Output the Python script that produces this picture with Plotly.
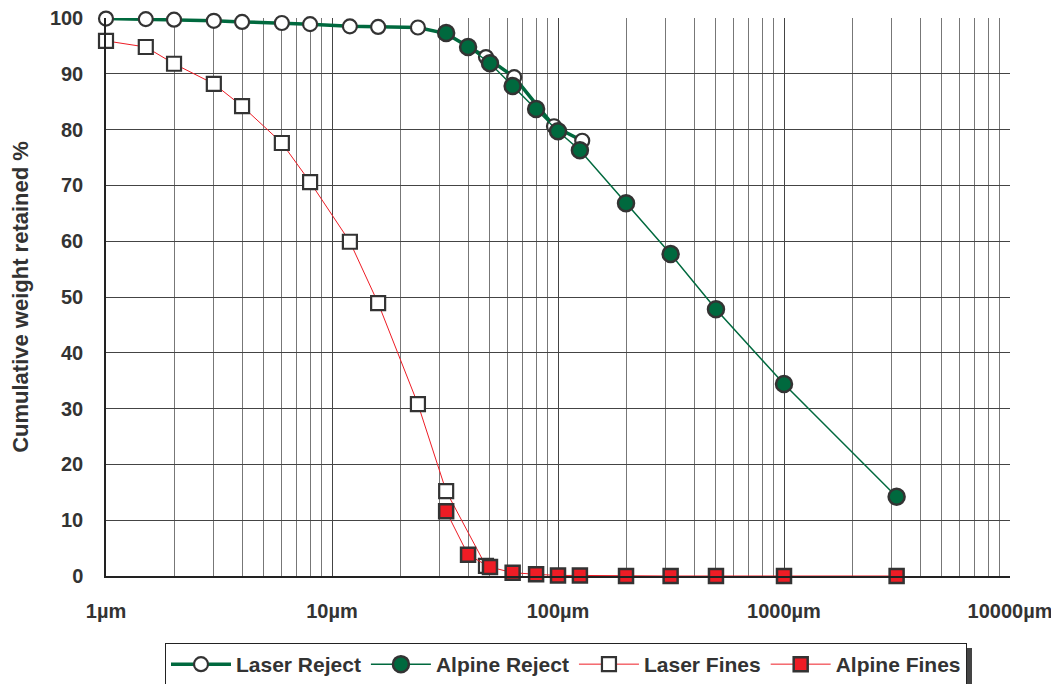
import plotly.graph_objects as go

# ---- data ----
laser_reject_size = [1, 1.5, 2, 3, 4, 6, 8, 12, 16, 24, 32, 48, 64, 96, 128]
laser_reject_pct = [99.9, 99.8, 99.7, 99.5, 99.3, 99.1, 98.9, 98.5, 98.4, 98.3, 97.2, 93.0, 89.4, 80.6, 78.0]

alpine_reject_size = [32, 40, 50, 63, 80, 100, 125, 200, 315, 500, 1000, 3150]
alpine_reject_pct = [97.3, 94.8, 91.9, 87.8, 83.7, 79.7, 76.3, 66.8, 57.7, 47.8, 34.4, 14.2]

laser_fines_size = [1, 1.5, 2, 3, 4, 6, 8, 12, 16, 24, 32, 48]
laser_fines_pct = [95.9, 94.8, 91.8, 88.2, 84.2, 77.6, 70.6, 59.9, 48.9, 30.8, 15.2, 1.8]

alpine_fines_size = [32, 40, 50, 63, 80, 100, 125, 200, 315, 500, 1000, 3150]
alpine_fines_pct = [11.6, 3.8, 1.6, 0.6, 0.3, 0.1, 0.1, 0.0, 0.0, 0.0, 0.0, 0.0]

x_tick_vals = [1, 10, 100, 1000, 10000]
x_tick_text = ["1µm", "10µm", "100µm", "1000µm", "10000µm"]
y_tick_vals = [0, 10, 20, 30, 40, 50, 60, 70, 80, 90, 100]

GREEN = "#00693E"
RED = "#EE1C25"
EDGE = "#333333"
FONT = "Liberation Sans"

minor_vals = [m * 10 ** k for k in range(4) for m in range(2, 10)]

# page has an 8px body margin; figure is sized to fit inside the window
W, H = 1051, 676
OFF = 8
PL, PR, PT, PB = 106, 1010, 18, 576  # plot area in window pixels

fig = go.Figure()
fig.add_trace(go.Scatter(
    x=laser_reject_size, y=laser_reject_pct, name="Laser Reject", mode="lines+markers",
    line=dict(color=GREEN, width=3.5),
    marker=dict(symbol="circle", size=14, color="white", line=dict(color=EDGE, width=2.2)),
    cliponaxis=False))
fig.add_trace(go.Scatter(
    x=alpine_reject_size, y=alpine_reject_pct, name="Alpine Reject", mode="lines+markers",
    line=dict(color=GREEN, width=1.5),
    marker=dict(symbol="circle", size=16, color=GREEN, line=dict(color=EDGE, width=2.5)),
    cliponaxis=False))
fig.add_trace(go.Scatter(
    x=laser_fines_size, y=laser_fines_pct, name="Laser Fines", mode="lines+markers",
    line=dict(color=RED, width=1),
    marker=dict(symbol="square", size=14, color="white", line=dict(color=EDGE, width=2.2)),
    cliponaxis=False))
fig.add_trace(go.Scatter(
    x=alpine_fines_size, y=alpine_fines_pct, name="Alpine Fines", mode="lines+markers",
    line=dict(color=RED, width=1),
    marker=dict(symbol="square", size=14, color=RED, line=dict(color=EDGE, width=2.5)),
    cliponaxis=False))


def px_x(p):
    return (p - PL) / (PR - PL)


def px_y(p):
    return (PB - p) / (PB - PT)


# legend shadow
fig.add_shape(type="rect", xref="paper", yref="paper",
              x0=px_x(169), x1=px_x(972), y0=px_y(684), y1=px_y(648),
              fillcolor="#444444", line=dict(width=0), layer="below")

fig.update_layout(
    width=W, height=H,
    margin=dict(l=PL - OFF, r=W - (PR - OFF), t=PT - OFF, b=H - (PB - OFF), autoexpand=False),
    paper_bgcolor="white", plot_bgcolor="white",
    font=dict(family=FONT, size=20, color="#333333"),
    showlegend=True,
    legend=dict(orientation="h", xref="container", yref="container",
                x=(566 - OFF) / W, xanchor="center", y=1 - (643 - OFF) / H, yanchor="top",
                bgcolor="white", bordercolor="#222222", borderwidth=1,
                font=dict(family=FONT, size=21, color="#333333", weight="bold"),
                itemwidth=60, tracegroupgap=0),
    xaxis=dict(type="log", range=[0, 4], tickvals=x_tick_vals, ticktext=x_tick_text,
               automargin=False, ticklabeloverflow="allow",
               showgrid=True, gridcolor="#444444", gridwidth=1,
               showline=True, linecolor="#222222", linewidth=1.5, mirror=False,
               ticks="", ticklabelstandoff=16,
               tickfont=dict(family=FONT, size=20, color="#333333", weight="bold"),
               minor=dict(tickvals=minor_vals, showgrid=True, gridcolor="#777777", gridwidth=1, ticks=""),
               zeroline=False),
    yaxis=dict(range=[0, 100], tickvals=y_tick_vals, automargin=False,
               ticklabeloverflow="allow",
               showgrid=True, gridcolor="#444444", gridwidth=1,
               showline=True, linecolor="#222222", linewidth=1.5,
               ticks="", ticklabelstandoff=17,
               tickfont=dict(family=FONT, size=20, color="#333333", weight="bold"),
               title=dict(text="Cumulative weight retained %", standoff=26,
                          font=dict(family=FONT, size=22, color="#333333", weight="bold")),
               zeroline=False),
)

fig.write_html("out.html")
